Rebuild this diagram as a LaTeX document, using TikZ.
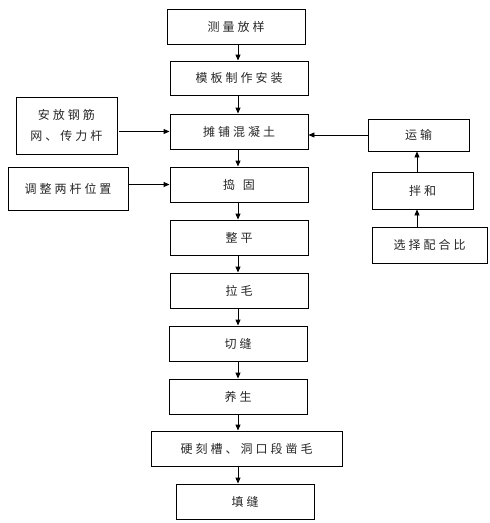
\documentclass[tikz,border=0pt]{standalone}
\usepackage{fontspec}
\newfontfamily\cjk[LetterSpace=25]{Noto Sans CJK SC}
\usetikzlibrary{arrows.meta}
\begin{document}
\begin{tikzpicture}[x=1pt,y=-1pt,
  box/.style={draw, line width=0.9pt, inner sep=0pt, align=center, text=black!85,
    font=\cjk\fontsize{12}{21}\selectfont},
  arr/.style={line width=0.9pt, -{Triangle[length=6pt,width=5pt]}}]
\useasboundingbox (0,0) rectangle (490,523);
\coordinate (ax) at (238,0);
\coordinate (bx) at (417,0);
% main column
\node[box, minimum width=138, minimum height=35] (s1) at (236,26.5) {测量放样};
\node[box, minimum width=138, minimum height=34] (s2) at (239,78) {模板制作安装};
\node[box, minimum width=138, minimum height=35] (s3) at (239,131.5) {摊铺混凝土};
\node[box, minimum width=138, minimum height=35] (s4) at (239,184.5) {捣\hspace{8pt}固};
\node[box, minimum width=138, minimum height=35] (s5) at (239,237.5) {整平};
\node[box, minimum width=138, minimum height=35] (s6) at (239,290.5) {拉毛};
\node[box, minimum width=138, minimum height=35] (s7) at (238,343.5) {切缝};
\node[box, minimum width=138, minimum height=35] (s8) at (238,396.5) {养生};
\node[box, minimum width=191, minimum height=35] (s9) at (246.5,448.5) {硬刻槽、洞口段凿毛};
\node[box, minimum width=138, minimum height=35] (s10) at (245,501.5) {填缝};
% left column
\node[box, minimum width=101, minimum height=57] (l1) at (66.5,125.5) {安放钢筋\\网、传力杆};
\node[box, minimum width=120, minimum height=43] (l2) at (68,188.5) {调整两杆位置};
% right column
\node[box, minimum width=101, minimum height=32] (r1) at (418.5,135) {运输};
\node[box, minimum width=101, minimum height=37] (r2) at (422.5,190.5) {拌和};
\node[box, minimum width=115, minimum height=36] (r3) at (429.5,245) {选择配合比};
% vertical arrows
\foreach \a/\b in {s1/s2,s2/s3,s3/s4,s4/s5,s5/s6,s6/s7,s7/s8,s8/s9,s9/s10}
  \draw[arr] (\a.south -| ax) -- (\b.north -| ax);
\draw[arr] (r3.north -| bx) -- (r2.south -| bx);
\draw[arr] (r2.north -| bx) -- (r1.south -| bx);
% horizontal arrows
\draw[arr] ([xshift=2pt]l1.east |- s3.west) -- (s3.west);
\draw[arr] (l2.east |- s4.west) -- (s4.west);
\draw[arr] (r1.west) -- (r1.west -| s3.east);
\end{tikzpicture}
\end{document}
